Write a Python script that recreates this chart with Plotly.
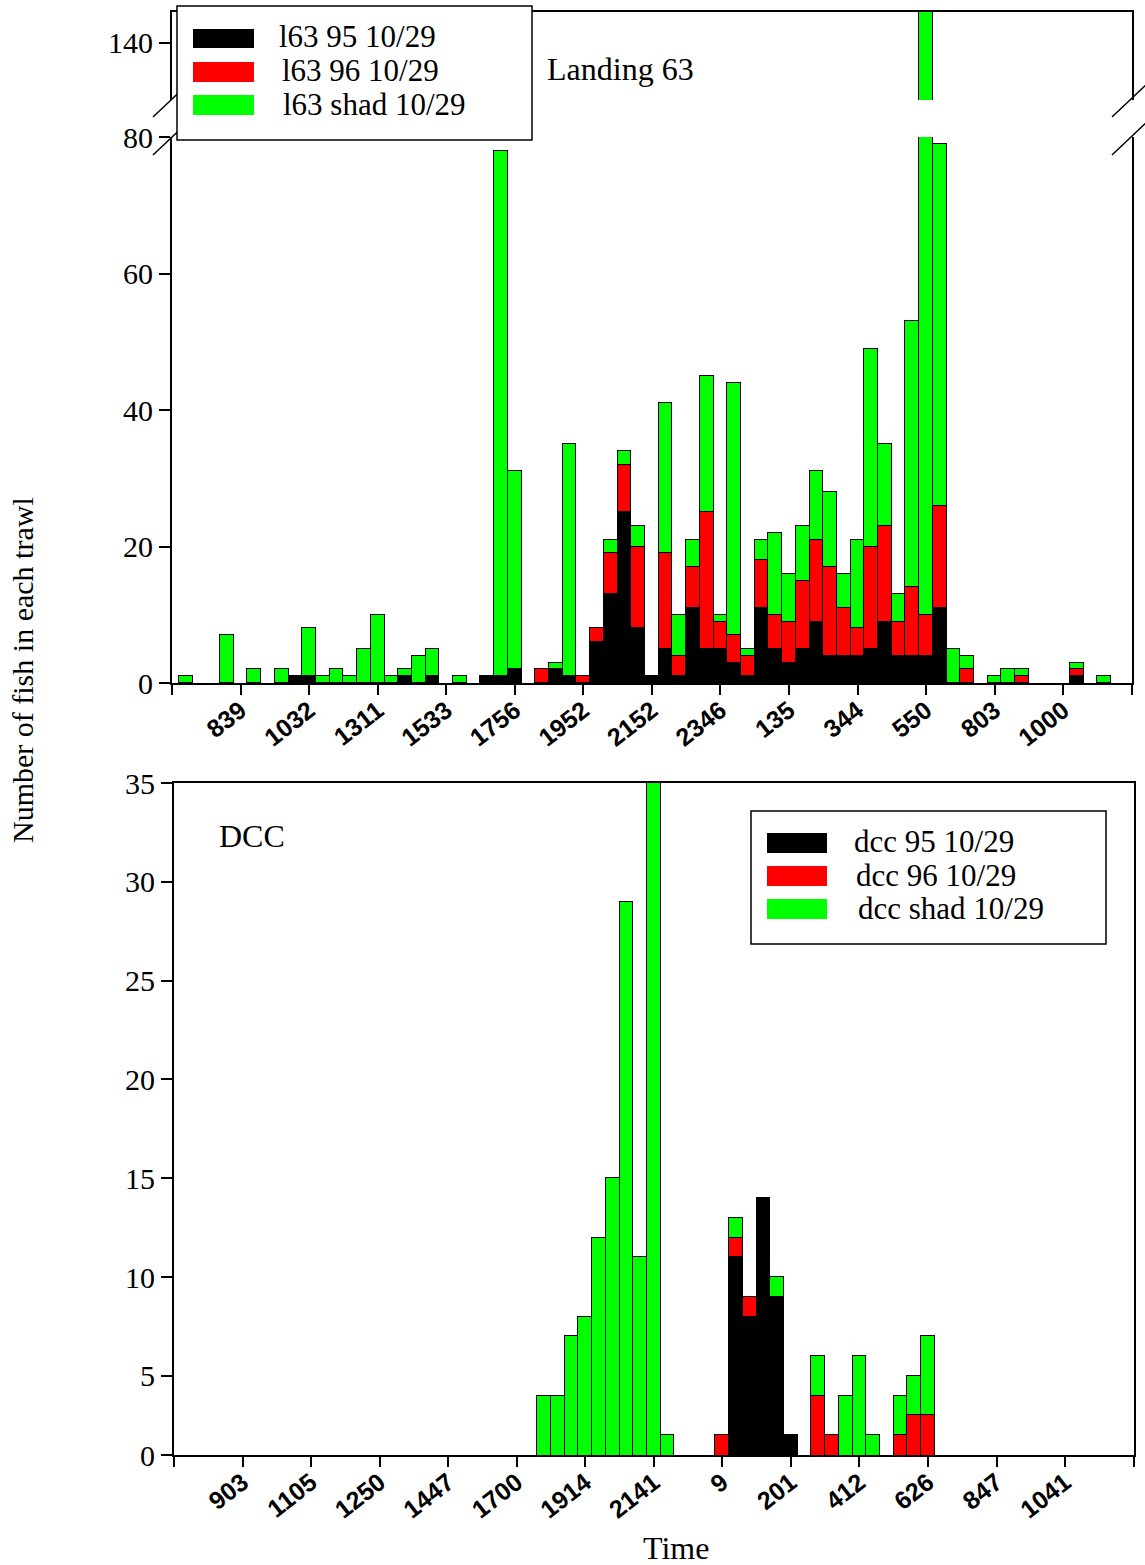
import plotly.graph_objects as go

# ---------------- data ----------------
# slot positions (trawls), 1..69 on a 0..70 axis
slots = list(range(1, 70))

top_tick_labels = ["", "839", "1032", "1311", "1533", "1756", "1952", "2152", "2346",
                   "135", "344", "550", "803", "1000", ""]
bot_tick_labels = ["", "903", "1105", "1250", "1447", "1700", "1914", "2141", "9",
                   "201", "412", "626", "847", "1041", ""]

# Landing 63 (values for slots 1..69)
l63_95 = [0, 0, 0, 0, 0, 0, 0, 0, 1, 1,
          0, 0, 0, 0, 0, 0, 1, 0, 1, 0,
          0, 0, 1, 1, 2, 0, 0, 2, 1, 0,
          6, 13, 25, 8, 1, 5, 1, 11, 5, 5,
          3, 1, 11, 5, 3, 5, 9, 4, 4, 4,
          5, 9, 4, 4, 4, 11, 0, 0, 0, 0,
          0, 0, 0, 0, 0, 1, 0, 0, 0]
l63_96 = [0, 0, 0, 0, 0, 0, 0, 0, 0, 0,
          0, 0, 0, 0, 0, 0, 0, 0, 0, 0,
          0, 0, 0, 0, 0, 0, 2, 0, 0, 1,
          2, 6, 7, 12, 0, 14, 3, 6, 20, 4,
          4, 3, 7, 5, 6, 10, 12, 13, 7, 4,
          15, 14, 5, 10, 6, 15, 0, 2, 0, 0,
          0, 1, 0, 0, 0, 1, 0, 0, 0]
l63_shad = [1, 0, 0, 7, 0, 2, 0, 2, 0, 7,
            1, 2, 1, 5, 10, 1, 1, 4, 4, 0,
            1, 0, 0, 77, 29, 0, 0, 1, 34, 0,
            0, 2, 2, 3, 0, 22, 6, 4, 20, 1,
            37, 1, 3, 12, 7, 8, 10, 11, 5, 13,
            29, 12, 4, 39, 138, 53, 5, 2, 0, 1,
            2, 1, 0, 0, 0, 1, 0, 1, 0]

# DCC (values for slots 1..69)
dcc_95 = [0] * 40 + [11, 8, 14, 9, 2] + [0] * 24
dcc_96 = [0] * 39 + [2, 1, 1, 0, 0, 0, 0, 4, 2, 0,
                     0, 0, 0, 2, 3, 3] + [0] * 14
dcc_shad = [0] * 26 + [4, 4, 7, 8, 12, 15, 29, 11, 35, 2,
                       0, 0, 0, 0, 1, 0, 0, 1, 0, 0,
                       2, 0, 4, 6, 2, 0, 2, 2, 4] + [0] * 14

top_names = ["l63 95 10/29", "l63 96 10/29", "l63 shad 10/29"]
bot_names = ["dcc 95 10/29", "dcc 96 10/29", "dcc shad 10/29"]
colors = ["#000000", "#FF0000", "#00FF00"]

# ---------------- geometry helpers ----------------
W, H = 1145, 1565


def fx(p):
    return p / W


def fy(p):
    return 1 - p / H


fig = go.Figure()


def nz(vals):
    return [v if v else None for v in vals]


for axes in (("x", "y"), ("x2", "y2")):
    for name, vals, col in zip(top_names, (l63_95, l63_96, l63_shad), colors):
        fig.add_trace(go.Bar(x=slots, y=nz(vals), name=name, xaxis=axes[0], yaxis=axes[1],
                             marker=dict(color=col, line=dict(color="#000000", width=1)),
                             width=1, showlegend=False))

for name, vals, col in zip(bot_names, (dcc_95, dcc_96, dcc_shad), colors):
    fig.add_trace(go.Bar(x=slots, y=nz(vals), name=name, xaxis="x3", yaxis="y3",
                         marker=dict(color=col, line=dict(color="#000000", width=1)),
                         width=1, showlegend=False))

serif = "Liberation Serif"
sans = "Liberation Sans"
tickvals_x = list(range(0, 71, 5))

xcommon = dict(range=[0, 70], showline=True, linewidth=2, linecolor="black",
               showgrid=False, zeroline=False, ticks="outside", ticklen=10, tickwidth=2,
               tickcolor="black", tickvals=tickvals_x, tickangle=-38, automargin=False,
               ticklabelstandoff=-9,
               tickfont=dict(family=sans, size=25, color="black", weight="bold"))
ycommon = dict(showline=True, linewidth=2, linecolor="black", mirror=True,
               showgrid=False, zeroline=False, ticks="outside", ticklen=11, tickwidth=2,
               tickcolor="black", automargin=False,
               tickfont=dict(family=serif, size=30, color="black"))

fig.update_layout(
    width=W, height=H, margin=dict(l=0, r=0, t=0, b=0, autoexpand=False),
    paper_bgcolor="white", plot_bgcolor="white",
    barmode="stack", bargap=0, showlegend=False,
    xaxis=dict(domain=[fx(172), fx(1131.7)], anchor="y", ticktext=top_tick_labels, **xcommon),
    yaxis=dict(domain=[fy(683), fy(137)], anchor="x", range=[0, 80],
               tickvals=[0, 20, 40, 60, 80], **ycommon),
    xaxis2=dict(domain=[fx(172), fx(1131.7)], anchor="y2", matches="x", range=[0, 70],
                side="top", showline=True, linewidth=2, linecolor="black", showgrid=False,
                zeroline=False, showticklabels=False, ticks="", automargin=False),
    yaxis2=dict(domain=[fy(100), fy(12)], anchor="x2", range=[131.65, 144.54],
                tickvals=[140], **ycommon),
    xaxis3=dict(domain=[fx(174), fx(1133.6)], anchor="y3", ticktext=bot_tick_labels,
                mirror=True, **xcommon),
    yaxis3=dict(domain=[fy(1455), fy(783)], anchor="x3", range=[1, 35],
                tickvals=[1, 5, 10, 15, 20, 25, 30, 35],
                ticktext=["0", "5", "10", "15", "20", "25", "30", "35"], **ycommon),
)

shapes = []
# axis-break marks
for (xa, xb) in ((153, 189), (1112, 1148)):
    for yc in (100, 138):
        shapes.append(dict(type="line", xref="paper", yref="paper",
                           x0=fx(xa), y0=fy(yc + 17), x1=fx(xb), y1=fy(yc - 17),
                           line=dict(color="black", width=1.5), layer="above"))


def legend_box(x0, y0, x1, y1):
    shapes.append(dict(type="rect", xref="paper", yref="paper",
                       x0=fx(x0), y0=fy(y1), x1=fx(x1), y1=fy(y0),
                       fillcolor="white", line=dict(color="black", width=1.5), layer="above"))


def swatch(x0, y0, x1, y1, col):
    shapes.append(dict(type="rect", xref="paper", yref="paper",
                       x0=fx(x0), y0=fy(y1), x1=fx(x1), y1=fy(y0),
                       fillcolor=col, line=dict(width=0), layer="above"))


legend_box(177, 6, 532, 140)
legend_box(751, 811, 1106, 944)
sw_top = [(29, 48), (62, 82), (95, 115)]
sw_bot = [(833, 853), (866, 886), (899, 919)]
for (a, b), col in zip(sw_top, colors):
    swatch(193, a, 254, b, col)
for (a, b), col in zip(sw_bot, colors):
    swatch(767, a, 827, b, col)

annotations = []


def text(x, y, s, size=32, xanchor="left", angle=0, yanchor="middle"):
    annotations.append(dict(x=fx(x), y=fy(y), xref="paper", yref="paper", text=s,
                            showarrow=False, xanchor=xanchor, yanchor=yanchor,
                            textangle=angle, borderpad=0,
                            font=dict(family=serif, size=size, color="black")))


for (xx, yy), s in zip(((278, 36), (281, 70), (282, 104)), top_names):
    text(xx, yy, s, size=31)
for (xx, yy), s in zip(((853, 841), (855, 875), (857, 909)), bot_names):
    text(xx, yy, s, size=31)
text(546, 69, "Landing 63")
text(218, 836, "DCC")
text(676, 1548, "Time", xanchor="center")
text(22, 670, "Number of fish in each trawl", size=30, xanchor="center", angle=-90)

fig.update_layout(shapes=shapes, annotations=annotations)
fig.write_html("out.html")
